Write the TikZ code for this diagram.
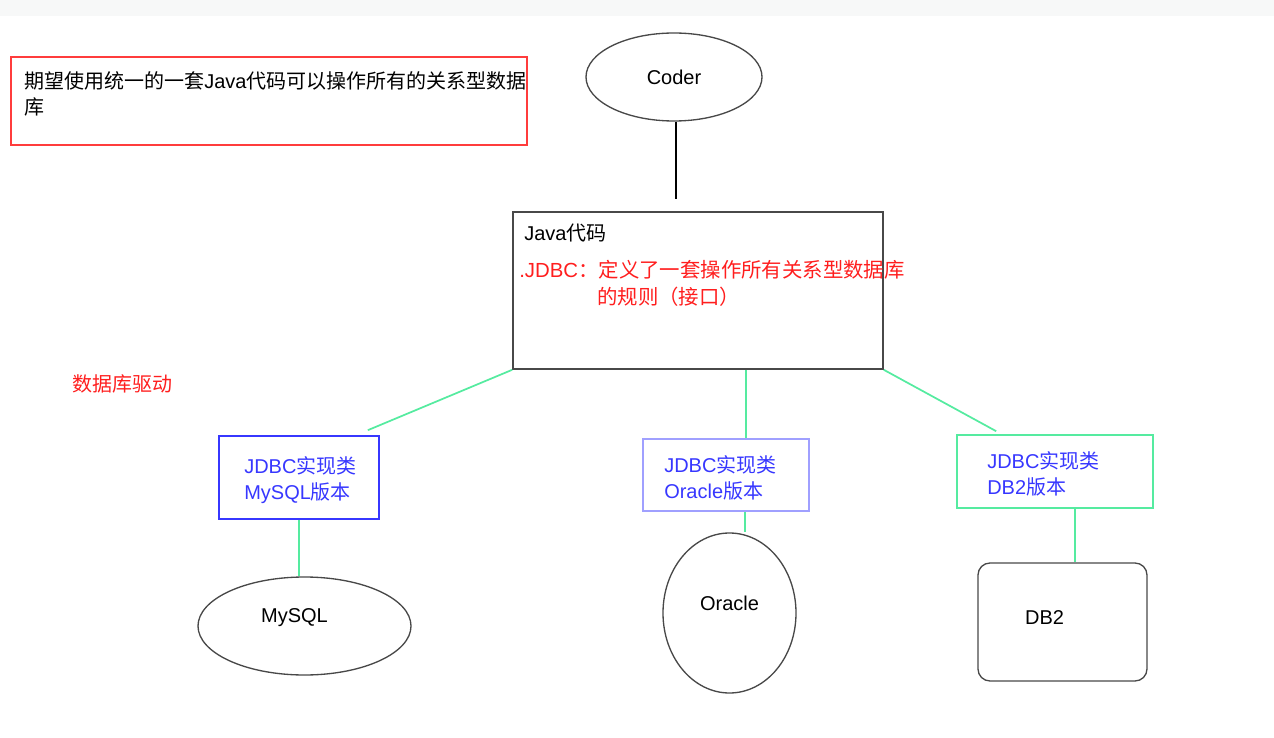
\documentclass[tikz,border=0pt]{standalone}
\usepackage{fontspec}
\setmainfont{Liberation Sans}
\newfontfamily\cjk{Noto Sans CJK SC}
\usetikzlibrary{shapes.geometric,calc}
\definecolor{topbar}{RGB}{247,248,248}
\definecolor{edgegray}{RGB}{72,72,72}
\definecolor{jdbcred}{RGB}{255,30,30}
\definecolor{goalred}{RGB}{255,60,60}
\definecolor{implblue}{RGB}{55,55,255}
\definecolor{paleblue}{RGB}{160,160,255}
\definecolor{drvgreen}{RGB}{85,235,160}
\begin{document}
\begin{tikzpicture}[x=0.75pt,y=-0.75pt,
		frame/.style={draw=edgegray,line width=1.2pt,inner sep=0pt},
		dbell/.style={ellipse,draw=edgegray,line width=1pt,inner sep=0pt},
		txt/.style={inner sep=0pt,anchor=west,align=left,font=\fontsize{15}{19.5}\selectfont},
		lbl/.style={inner sep=0pt,font=\fontsize{15}{18}\selectfont},
		drvlink/.style={drvgreen,line width=1.3pt},
		stem/.style={black,line width=0.9pt}]
		\useasboundingbox (0,0) rectangle (1274,738);
		\fill[topbar] (0,0) rectangle (1274,16);
		% top
		\node[frame,draw=goalred,minimum width=387pt,minimum height=66pt] (goal) at (269,101) {};
		\node[txt] (goaltxt) at (24,94) {{\cjk 期望使用统一的一套}Java{\cjk 代码可以操作所有的关系型数据}\\{\cjk 库}};
		\node[dbell,minimum width=132pt,minimum height=66pt,font=\fontsize{15}{18}\selectfont] (coder) at (674,77) {Coder};
		\node[frame,minimum width=277.5pt,minimum height=117.75pt] (java) at (698,290.5) {};
		\node[txt] (javatxt) at (524,233) {Java{\cjk 代码}};
		\node[txt,jdbcred,font=\fontsize{15.3}{20}\selectfont] (jdbca) at (519,270) {.JDBC{\cjk ：定义了一套操作所有关系型数据库}};
		\node[txt,jdbcred,font=\fontsize{15.3}{20}\selectfont] (jdbcb) at (597,297) {{\cjk 的规则（接口）}};
		\node[txt,jdbcred] (driver) at (72,384) {{\cjk 数据库驱动}};
		\coordinate (coderend) at (676,199);
		\draw[stem] (coder.south -| coderend) -- (coderend);
		% implementations
		\node[frame,draw=implblue,minimum width=120pt,minimum height=62.25pt] (mysqlbox) at (299,477.5) {};
		\node[txt,implblue] (mysqltxt) at (244,480) {JDBC{\cjk 实现类}\\MySQL{\cjk 版本}};
		\node[frame,draw=paleblue,line width=1pt,minimum width=124.5pt,minimum height=54pt] (oraclebox) at (726,475) {};
		\node[txt,implblue] (oracletxt) at (664,477.5) {JDBC{\cjk 实现类}\\Oracle{\cjk 版本}};
		\node[frame,draw=drvgreen,minimum width=147pt,minimum height=54.75pt] (db2box) at (1055,471.5) {};
		\node[txt,implblue] (db2txt) at (987,474) {JDBC{\cjk 实现类}\\DB2{\cjk 版本}};
		\coordinate (oraclein) at ($(oraclebox.north)+(20,0)$);
		\draw[drvlink] (java.south west) -- ($(mysqlbox.north east)+(-12,-5)$);
		\draw[drvlink] (java.south -| oraclein) -- (oraclein);
		\draw[drvlink] (java.south east) -- ($(db2box.north west)+(40,-3)$);
		% databases
		\node[dbell,minimum width=159.75pt,minimum height=73.5pt] (mysql) at (304.5,626) {};
		\node[lbl] at ($(mysql)+(-10,-8)$) {MySQL};
		\node[dbell,minimum width=99.75pt,minimum height=120pt] (oracle) at (729.5,613) {};
		\node[lbl] at ($(oracle)+(0,-10)$) {Oracle};
		\node[frame,line width=1pt,rounded corners=9pt,minimum width=126.75pt,minimum height=88.5pt] (db2) at (1062.5,622) {};
		\node[lbl] at ($(db2)+(-18,-4)$) {DB2};
		\coordinate (oracleout) at ($(oraclebox.south)+(19,0)$);
		\coordinate (db2out) at ($(db2box.south)+(20,0)$);
		\draw[drvlink] (mysqlbox.south) -- (mysqlbox.south |- mysql.north);
		\draw[drvlink] (oracleout) -- (oracleout |- oracle.north);
		\draw[drvlink] (db2out) -- (db2out |- db2.north);
	\end{tikzpicture}
\end{document}
